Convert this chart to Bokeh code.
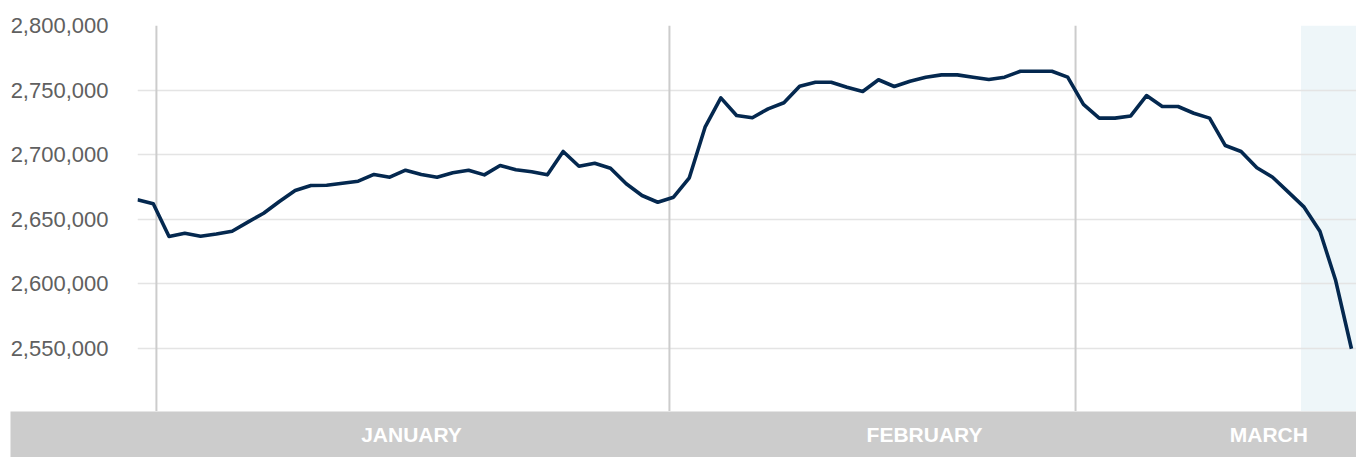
from bokeh.plotting import figure
from bokeh.layouts import column
from bokeh.models import Range1d, FixedTicker, NumeralTickFormatter, Span, BoxAnnotation
from bokeh.core.properties import value
from bokeh.embed import file_html
from bokeh.resources import INLINE

# ---- data ----
values = [
    2665100, 2662000, 2636700, 2639200, 2636900, 2638600, 2640800, 2647800, 2654700, 2663800,
    2672300, 2676200, 2676400, 2677900, 2679500, 2684700, 2682600, 2688000, 2684700, 2682600,
    2686000, 2688000, 2684400, 2691600, 2688300, 2686800, 2684400, 2702500, 2691100, 2693400,
    2689500, 2677500, 2668400, 2663200, 2667100, 2682100, 2721300, 2744000, 2730300, 2728600,
    2735500, 2740200, 2753000, 2756100, 2756100, 2752200, 2748900, 2758000, 2752800, 2756900,
    2760000, 2761800, 2761800, 2760000, 2758200, 2760000, 2764600, 2764600, 2764600, 2760000,
    2738900, 2728300, 2728300, 2730000, 2745800, 2737300, 2737300, 2732100, 2728300, 2707100,
    2702500, 2689900, 2682600, 2671000, 2659400, 2640800, 2602600, 2549800,
]
idx = list(range(len(values)))

month_labels = ["JANUARY", "FEBRUARY", "MARCH"]
month_start_pos = [1.2, 33.74, 59.5]
month_label_pos = [17.38, 49.92, 71.76]
highlight_start = 73.8
y_ticks = [2550000, 2600000, 2650000, 2700000, 2750000, 2800000]

X_END = 77.32
Y_START, Y_END = 2501240, 2800000

W = 1356
LEFT = 137
BAND_LEFT = 10

# ---- main chart ----
p = figure(width=W, height=411, output_backend="svg", toolbar_location=None,
           x_range=Range1d(0, X_END), y_range=Range1d(Y_START, Y_END),
           min_border_left=LEFT, min_border_right=0, min_border_top=25, min_border_bottom=0)
p.frame_align = False
p.outline_line_color = None
p.background_fill_color = None
p.border_fill_color = "white"
p.xaxis.visible = False
p.xgrid.visible = False

yax = p.yaxis[0]
yax.ticker = FixedTicker(ticks=y_ticks)
yax.formatter = NumeralTickFormatter(format="0,0")
yax.axis_line_color = None
yax.major_tick_line_color = None
yax.minor_tick_line_color = None
yax.major_tick_in = 0
yax.major_tick_out = 0
yax.major_label_standoff = 29
yax.major_label_text_font = "Liberation Sans"
yax.major_label_text_font_size = "22px"
yax.major_label_text_color = "#606060"

p.ygrid.ticker = FixedTicker(ticks=y_ticks)
p.ygrid.grid_line_color = "#e4e4e4"
p.ygrid.grid_line_width = 1.5

box = BoxAnnotation(left=highlight_start, fill_color="#eef6f9", fill_alpha=1.0,
                    line_color=None, level="image")
p.add_layout(box)

for m in month_start_pos:
    p.add_layout(Span(location=m, dimension="height", line_color="#cccccc",
                      line_width=2, level="underlay"))

p.line(idx, values, line_color="#04284f", line_width=3.6, line_join="round")

# ---- month band (frame covers the whole band; x range aligned with main chart) ----
units_per_px = X_END / (W - LEFT)
band_x_start = -(LEFT - BAND_LEFT) * units_per_px
b = figure(width=W - BAND_LEFT, height=46, output_backend="svg", toolbar_location=None,
           x_range=Range1d(band_x_start, X_END), y_range=Range1d(0, 1),
           min_border_left=0, min_border_right=0, min_border_top=0, min_border_bottom=0,
           margin=(0, 0, 0, BAND_LEFT))
b.frame_align = False
b.outline_line_color = None
b.background_fill_color = "#cccccc"
b.border_fill_color = "#cccccc"
b.axis.visible = False
b.grid.visible = False
b.text(x=month_label_pos, y=[0.5] * len(month_labels), text=month_labels,
       text_align="center", text_baseline="middle", text_color="white",
       text_font=value("Liberation Sans"), text_font_style="bold", text_font_size="21px")

layout = column(p, b, spacing=0)
open("out.html", "w").write(file_html(layout, INLINE))
